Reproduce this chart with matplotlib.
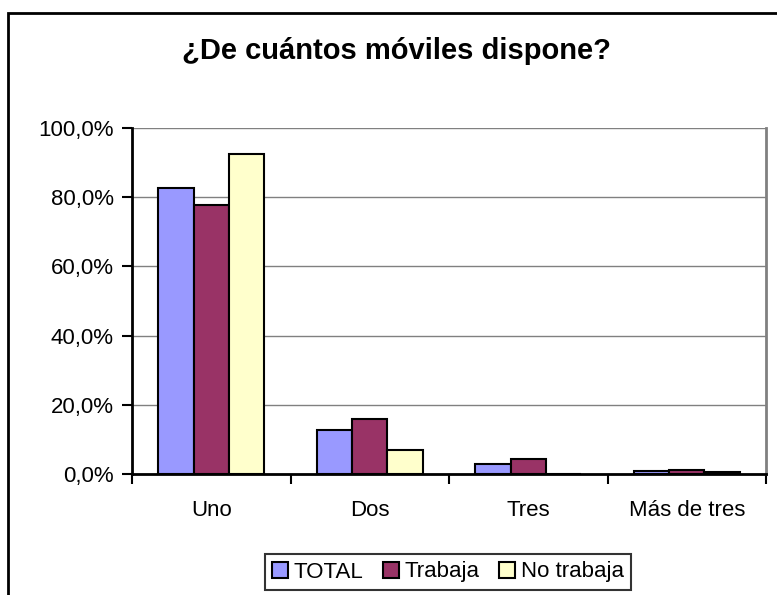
import numpy as np
import matplotlib
matplotlib.use("Agg")
import matplotlib.pyplot as plt
from matplotlib.patches import Rectangle
from matplotlib.ticker import FuncFormatter

categories = ["Uno", "Dos", "Tres", "Más de tres"]
series = ["TOTAL", "Trabaja", "No trabaja"]
total = [82.6, 12.8, 2.9, 1.0]
trabaja = [77.8, 15.9, 4.3, 1.3]
no_trabaja = [92.5, 7.0, 0.0, 0.6]
colors = ["#9999ff", "#993366", "#ffffcc"]

plt.rcParams["font.family"] = ["Liberation Sans", "DejaVu Sans"]

W, H = 777, 595
fig = plt.figure(figsize=(W / 100, H / 100), dpi=100)

# outer chart frame (cut by the image on the right and bottom)
fig.patches.append(Rectangle((8 / W, -0.05), 1.1, 1 - 13 / H + 0.05,
                             transform=fig.transFigure, fill=False,
                             edgecolor="black", linewidth=2, zorder=0))

ax = fig.add_axes([132 / W, 1 - 474 / H, (766 - 132) / W, (474 - 128) / H])

x = np.arange(len(categories))
w = 0.222
for i, (vals, c, name) in enumerate(zip([total, trabaja, no_trabaja], colors, series)):
    ax.bar(x + (i - 1) * w, vals, width=w, color=c, edgecolor="black",
           linewidth=1.5, label=name, zorder=3)

ax.set_xlim(-0.5, len(categories) - 0.5)
ax.set_ylim(0, 100)
ax.set_yticks(np.arange(0, 101, 20))
ax.yaxis.set_major_formatter(FuncFormatter(lambda v, p: f"{v:.1f}%".replace(".", ",")))
ax.set_xticks(x)
ax.set_xticklabels(categories)
ax.set_xticks(np.arange(-0.5, len(categories)), minor=True)
ax.tick_params(axis="x", which="major", length=0, pad=19, labelsize=16)
ax.tick_params(axis="x", which="minor", length=7, width=1.5, direction="out")
ax.tick_params(axis="y", length=7, width=1.5, direction="out", labelsize=16, pad=6)

ax.grid(axis="y", color="#808080", linewidth=1, zorder=0)
ax.spines["left"].set_linewidth(2)
ax.spines["bottom"].set_linewidth(2)
ax.spines["top"].set_visible(False)
ax.spines["right"].set_color("#808080")
ax.spines["right"].set_linewidth(2)
ax.set_axisbelow(True)

fig.text(396 / W, 1 - 59 / H, "¿De cuántos móviles dispone?", ha="center",
         va="baseline", fontsize=21, fontweight="bold")

leg = fig.legend(loc="center", bbox_to_anchor=(448 / W, 1 - 572 / H), ncol=3,
                 frameon=True, fancybox=False, edgecolor="black", fontsize=16,
                 handlelength=0.7, handleheight=0.7, handletextpad=0.25,
                 columnspacing=0.9, borderpad=0.35, borderaxespad=0)
leg.get_frame().set_linewidth(1.5)

fig.savefig("out.png", dpi=100)
